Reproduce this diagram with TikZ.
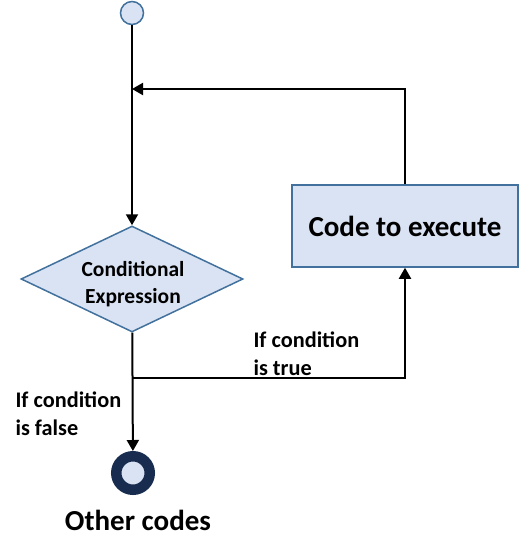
\documentclass[tikz,border=0pt]{standalone}
\usepackage{fontspec}
\setmainfont{Carlito}
\usepackage{tikz}
\usetikzlibrary{positioning,shapes.geometric,arrows.meta}
\definecolor{shapefill}{HTML}{DAE3F3}
\definecolor{shapeline}{HTML}{41719C}
\definecolor{endline}{HTML}{172C4E}
\tikzset{flow/.style={line width=2pt,-{Triangle[length=11pt,width=12pt]}}}
\tikzset{startnode/.style={circle,draw=shapeline,fill=shapefill,line width=1.5pt,minimum size=23pt,inner sep=0pt}}
\tikzset{endnode/.style={circle,draw=endline,fill=shapefill,line width=10.5pt,minimum size=33.5pt,inner sep=0pt}}
\tikzset{decision/.style={diamond,draw=shapeline,fill=shapefill,line width=1.5pt,aspect=2.1,inner sep=0pt,minimum width=222pt,minimum height=106pt}}
\tikzset{condtext/.style={align=center,inner sep=0pt,font=\fontsize{21.5}{27}\selectfont\bfseries}}
\tikzset{process/.style={rectangle,draw=shapeline,fill=shapefill,line width=1.5pt,minimum width=226pt,minimum height=82pt,font=\fontsize{29}{34}\selectfont\bfseries}}
\tikzset{label/.style={align=left,anchor=west,font=\fontsize{22.3}{28}\selectfont\bfseries}}

\begin{document}
\begin{tikzpicture}[x=1pt,y=-1pt]
  \useasboundingbox (0,0) rectangle (530,554);
  \node[startnode] (start) at (132,13) {};
  \node[decision] (cond) at (132,279) {};
  \node[condtext] (condlabel) at (133,284) {Conditional\\Expression};
  \node[process] (code) at (405,226) {Code to execute};
  \node[endnode] (end) at (133,473) {};
  \node[font=\fontsize{29}{34}\selectfont\bfseries] (other) at (138,520) {Other codes};
  \coordinate (join) at (132,89);
  \coordinate (split) at (132,378);
  \draw[flow] (start) -- (cond);
  \draw[flow] (code.north) |- (join);
  \draw[flow] (cond) -- (end);
  \draw[flow] (split) -| (code.south);
  \node[label] (truelabel) at (250,354) {If condition\\is true};
  \node[label] (falselabel) at (12,414) {If condition\\is false};
\end{tikzpicture}
\end{document}
